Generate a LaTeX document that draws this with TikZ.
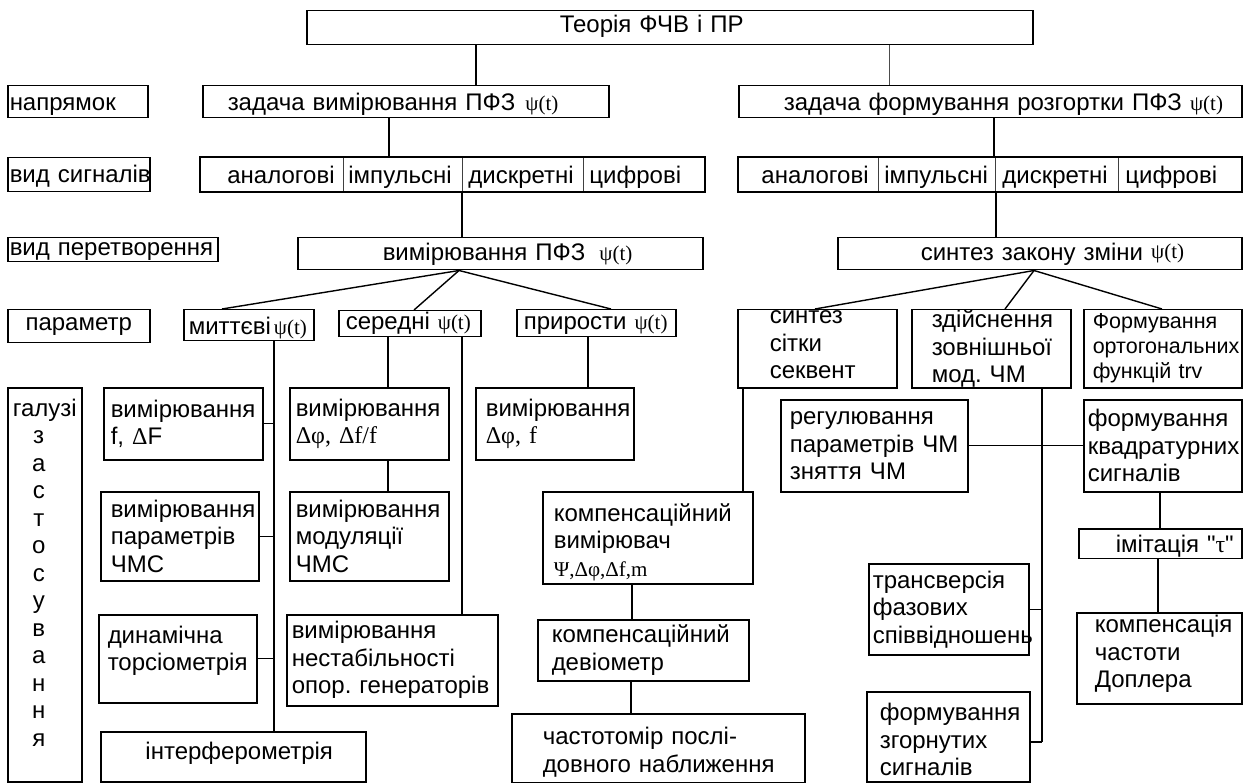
\documentclass[tikz,border=0pt]{standalone}
\usepackage{fontspec}
\setmainfont{Liberation Sans}[Ligatures=TeXOff]
\newfontfamily\srf{Liberation Serif}
\hyphenpenalty=10000
\exhyphenpenalty=10000
\newcommand\fs{\fontsize{24pt}{27.5pt}\selectfont}
\newcommand\fsb{\fontsize{21.5pt}{25pt}\selectfont}
\newcommand\grk[1]{{\srf\fontsize{21pt}{27.5pt}\selectfont #1}}
\newcommand\grs[1]{{\srf #1}}
\newcommand\pushup[1]{\rule[-#1pt]{0pt}{#1pt}}
\newcommand\pushdn[1]{\rule{0pt}{#1pt}}
\newcommand\sv[2]{\rule[-#2pt]{0pt}{\dimexpr#1pt+#2pt\relax}}
\newcommand\ind[1]{\def\curind{#1pt}\hspace*{#1pt}}
\newcommand\nl{\\\hspace*{\curind}}
\newcommand\lt[1]{\hspace*{-12pt}#1}
\tikzset{
  bx/.style={draw, line width=1.5pt, anchor=north west, inner sep=0pt, align=left, font=\fs},
  cell/.style={line width=0.8pt, draw=black!75},
  ln/.style={line width=1.4pt},
  thinln/.style={line width=0.8pt, draw=black!70},
  outer/.style={line width=1.5pt}
}
\newcommand\bx[7][]{\node[bx,#1,text width=#5pt,minimum height=#6pt] (#2) at (#3,#4) {#7};}
\begin{document}
\begin{tikzpicture}[x=1pt,y=-1pt]
\useasboundingbox (0,0) rectangle (1247,783);
% label column
\bx{top}{306}{10}{726}{34}{\ind{253}\sv{18}{8}Теорія~ФЧВ~і~ПР}
\bx{nap}{7}{85}{140}{32}{\ind{2}\sv{22.6}{6}напрямок}
\bx{vs}{7}{157}{142}{34}{\ind{2}\sv{21.4}{6}вид~сигналів}
\bx{vp}{7}{237}{210}{24}{\ind{2}\sv{18}{6}вид~перетворення}
\bx[align=center]{par}{7}{309}{142}{33}{\sv{18}{9}параметр}
\bx[align=center]{gal}{7}{387}{74}{394}{галузі\\\lt{з}\\\lt{а}\\\lt{с}\\\lt{т}\\\lt{о}\\\lt{с}\\\lt{у}\\\lt{в}\\\lt{а}\\\lt{н}\\\lt{н}\\\lt{я}\pushup{24}}
% direction
\bx{z1}{202}{85}{406}{32}{\ind{25}\sv{24}{6}задача~вимірювання~ПФЗ\hspace{10pt}\grk{ψ(t)}}
\bx{z2}{738}{85}{503}{32}{\ind{45}\sv{24}{6}задача~формування~розгортки~ПФЗ~\grk{ψ(t)}}
% signal kinds
\bx[cell]{a1}{200}{157}{143}{34}{\ind{27}\sv{23.4}{6}аналогові}
\bx[cell]{a2}{343}{157}{119}{34}{\ind{5}\sv{23.4}{6}імпульсні}
\bx[cell]{a3}{462}{157}{121}{34}{\ind{6}\sv{23.4}{6}дискретні}
\bx[cell]{a4}{583}{157}{121}{34}{\ind{6}\sv{23.4}{6}цифрові}
\draw[outer] (a1.north west) rectangle (a4.south east);
\bx[cell]{b1}{738}{157}{140}{34}{\ind{23}\sv{23.4}{6}аналогові}
\bx[cell]{b2}{878}{157}{117}{34}{\ind{6}\sv{23.4}{6}імпульсні}
\bx[cell]{b3}{995}{157}{123}{34}{\ind{7}\sv{23.4}{6}дискретні}
\bx[cell]{b4}{1118}{157}{123}{34}{\ind{7}\sv{23.4}{6}цифрові}
\draw[outer] (b1.north west) rectangle (b4.south east);
% transformation
\bx{vpL}{297}{237}{405}{32}{\ind{85}\sv{20}{6}вимірювання~ПФЗ\hspace{14pt}\grk{ψ(t)}}
\bx{vpR}{837}{237}{404}{32}{\ind{83}\sv{20}{6}синтез~закону~зміни~\grk{\raisebox{2pt}{ψ(t)}}}
% parameter row
\bx{mit}{183}{309}{130}{31}{\ind{5}\sv{23.6}{6}миттєві\hspace{3pt}\grk{ψ(t)}}
\bx{ser}{338}{310}{142}{26}{\ind{7}\sv{18}{7.4}середні~\grk{ψ(t)}}
\bx{pri}{516}{309}{159}{27}{\ind{7}\sv{18}{6.4}прирости~\grk{ψ(t)}}
\bx{ss}{737}{309}{159}{78}{\ind{32}синтез\nl сітки\nl секвент\pushup{8}}
\bx{zd}{911}{309}{159}{78}{\ind{20}здійснення\nl зовнішньої\nl мод.~ЧМ\pushup{4}}
\bx[font=\fsb]{fo}{1083}{309}{158}{78}{\ind{9}Формування\nl ортогональних\nl функцій~trv}
% application branches, left
\bx{m1}{103}{387}{159}{72}{\ind{7}вимірювання\nl f,~\grs{Δ}F}
\bx{m2}{100}{491}{158}{89}{\ind{10}вимірювання\nl параметрів\nl ЧМС}
\bx{m3}{98}{614}{158}{88}{\ind{9}динамічна\nl торсіометрія\pushup{21}}
\bx[align=center]{m4}{100}{731}{265}{50}{\hspace*{12pt}\sv{18}{12.6}інтерферометрія}
\bx{d1}{289}{387}{159}{72}{\ind{6}вимірювання\nl \grs{Δφ,~Δf/f}}
\bx{d2}{289}{491}{159}{89}{\ind{6}вимірювання\nl модуляції\nl ЧМС}
\bx{d3}{286}{614}{211}{91}{\ind{5}вимірювання\nl нестабільності\nl опор.~генераторів}
\bx{p1}{475}{387}{158}{72}{\ind{10}вимірювання\nl \grs{Δφ,~f}}
\bx{k1}{542}{491}{210}{92}{\ind{11}\pushdn{26}компенсаційний\nl вимірювач\nl \grk{Ψ,Δφ,Δf,m}}
\bx{k2}{537}{619}{211}{61}{\ind{14}компенсаційний\nl девіометр}
\bx{k3}{511}{713}{293}{69}{\ind{31}\pushdn{25}частотомір~послі-\nl довного~наближення}
% application branches, right
\bx{r1}{780}{399}{187}{92}{\ind{9}регулювання\nl параметрів~ЧМ\nl зняття~ЧМ}
\bx{q1}{1083}{399}{158}{92}{\ind{4}формування\nl квадратурних\nl сигналів}
\bx{i1}{1078}{528}{163}{27}{\ind{37}\sv{23.6}{6}імітація~"\grs{τ}"}
\bx{c1}{1076}{612}{165}{91}{\ind{18}компенсація\nl частоти\nl Доплера\pushup{13}}
\bx{t1}{868}{563}{160}{91}{\ind{4}трансверсія\nl фазових\nl співвідношень}
\bx{f1}{866}{691}{163}{90}{\ind{13}\pushdn{23}формування\nl згорнутих\nl сигналів}
% connectors
\draw[ln] (top.south -| 476,0) -- (z1.north -| 476,0);
\draw[thinln] (top.south -| 889,0) -- (z2.north -| 889,0);
\draw[ln] (z1.south -| 389,0) -- (a2.north -| 389,0);
\draw[ln] (z2.south -| 994,0) -- (b3.north -| 994,0);
\draw[ln] (a3.south -| 462,0) -- (vpL.north -| 462,0);
\draw[ln] (b3.south -| 996,0) -- (vpR.north -| 996,0);
\draw[ln] (vpL.south -| 459,0) -- (mit.north -| 222,0);
\draw[ln] (vpL.south -| 459,0) -- (ser.north -| 414,0);
\draw[ln] (vpL.south -| 459,0) -- (pri.north -| 611,0);
\draw[ln] (vpR.south -| 1034,0) -- (ss.north -| 815,0);
\draw[ln] (vpR.south -| 1034,0) -- (zd.north -| 1005,0);
\draw[ln] (vpR.south -| 1034,0) -- (fo.north -| 1162,0);
\coordinate (bus1) at (274,0);
\draw[ln] (mit.south -| bus1) -- (m4.north -| bus1);
\draw[ln] (m1.east) -- (m1.east -| bus1);
\draw[ln] (m2.east) -- (m2.east -| bus1);
\draw[ln] (m3.east) -- (m3.east -| bus1);
\draw[ln] (ser.south -| 388,0) -- (d1.north -| 388,0);
\draw[ln] (d1.south -| 388,0) -- (d2.north -| 388,0);
\draw[ln] (ser.south -| 462,0) -- (d3.north -| 462,0);
\draw[ln] (pri.south -| 588,0) -- (p1.north -| 588,0);
\draw[ln] (ss.south -| 743,0) -- (k1.north -| 743,0);
\draw[ln] (k1.south -| 632,0) -- (k2.north -| 632,0);
\draw[ln] (k2.south -| 631,0) -- (k3.north -| 631,0);
\coordinate (bus2) at (1042,742);
\draw[ln] (zd.south -| bus2) -- (bus2);
\draw[ln] (r1.east) -- (q1.west);
\draw[ln] (t1.east) -- (t1.east -| bus2);
\draw[ln] (f1.east |- bus2) -- (bus2);
\draw[ln] (q1.south -| 1160,0) -- (i1.north -| 1160,0);
\draw[ln] (i1.south -| 1158,0) -- (c1.north -| 1158,0);
\end{tikzpicture}
\end{document}
